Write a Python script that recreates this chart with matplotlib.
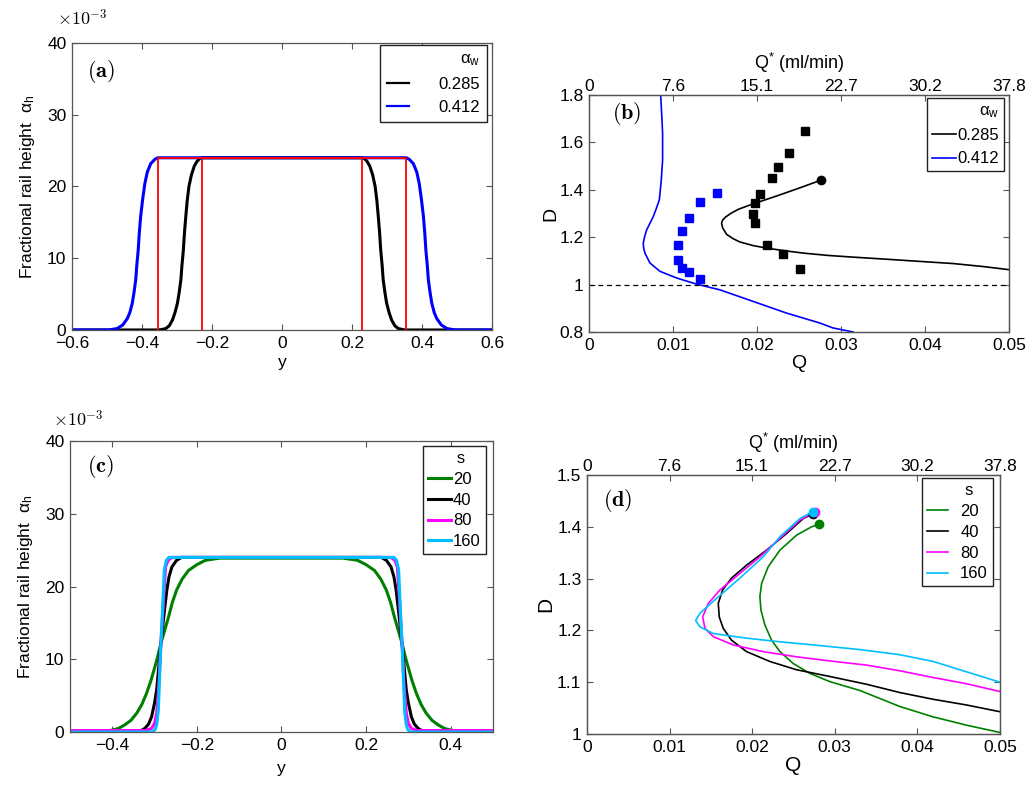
import numpy as np
import matplotlib
matplotlib.use('Agg')
import matplotlib.pyplot as plt
from matplotlib.ticker import FuncFormatter

plt.rcParams['font.family'] = ['Liberation Sans', 'DejaVu Sans']
plt.rcParams['mathtext.fontset'] = 'custom'
plt.rcParams['mathtext.rm'] = 'Liberation Sans'
plt.rcParams['mathtext.it'] = 'Liberation Sans:italic'
plt.rcParams['mathtext.bf'] = 'Liberation Sans:bold'

# ---------------- data ----------------
# (a) rail profiles, alpha_h vs y
a_y_285 = [-0.6, -0.355, -0.345, -0.332, -0.322, -0.313, -0.306, -0.299, -0.294, -0.289, -0.286,
           -0.282, -0.279, -0.275, -0.271, -0.266, -0.259, -0.251, -0.243, -0.235, -0.228,
           0.228, 0.235, 0.243, 0.251, 0.259, 0.266, 0.271, 0.275, 0.279, 0.282, 0.286, 0.289,
           0.294, 0.299, 0.306, 0.313, 0.322, 0.332, 0.345, 0.355, 0.6]
a_h_285 = [0.0, 0.0, 0.00005, 0.0002, 0.0006, 0.0014, 0.0024, 0.0037, 0.0052, 0.0070, 0.0090,
           0.0111, 0.0134, 0.0158, 0.0180, 0.0200, 0.0216, 0.0228, 0.0235, 0.0239, 0.0240,
           0.0240, 0.0239, 0.0235, 0.0228, 0.0216, 0.0200, 0.0180, 0.0158, 0.0134, 0.0111, 0.0090,
           0.0070, 0.0052, 0.0037, 0.0024, 0.0014, 0.0006, 0.0002, 0.00005, 0.0, 0.0]
a_y_412 = [-0.6, -0.495, -0.471, -0.455, -0.442, -0.435, -0.428, -0.423, -0.418, -0.415, -0.411,
           -0.408, -0.404, -0.398, -0.392, -0.385, -0.375, -0.363, -0.355,
           0.355, 0.363, 0.375, 0.385, 0.392, 0.398, 0.404, 0.408, 0.411, 0.415, 0.418, 0.423,
           0.428, 0.435, 0.442, 0.455, 0.471, 0.495, 0.6]
a_h_412 = [0.0, 0.0, 0.0002, 0.0007, 0.0016, 0.0024, 0.0037, 0.0052, 0.0070, 0.0090, 0.0111,
           0.0134, 0.0158, 0.0183, 0.0204, 0.0220, 0.0232, 0.0238, 0.0240,
           0.0240, 0.0238, 0.0232, 0.0220, 0.0204, 0.0183, 0.0158, 0.0134, 0.0111, 0.0090, 0.0070,
           0.0052, 0.0037, 0.0024, 0.0016, 0.0007, 0.0002, 0.0, 0.0]
# red step outlines
red_y_in = [-0.228, -0.228, 0.228, 0.228]
red_y_out = [-0.355, -0.355, 0.355, 0.355]
red_h = [0.0, 0.024, 0.024, 0.0]

# (b) D vs Q
b_q_285 = [0.02756, 0.0250, 0.0225, 0.0205, 0.0190, 0.0178, 0.01695, 0.01625, 0.0159, 0.01578,
           0.0159, 0.01638, 0.0172, 0.01796, 0.0195, 0.02113, 0.0235, 0.0255, 0.0285, 0.03144,
           0.0355, 0.03937, 0.04334, 0.0470, 0.05]
b_d_285 = [1.440, 1.407, 1.376, 1.352, 1.334, 1.318, 1.302, 1.285, 1.272, 1.259,
           1.240, 1.212, 1.193, 1.180, 1.165, 1.154, 1.142, 1.133, 1.123, 1.116,
           1.107, 1.098, 1.089, 1.076, 1.063]
b_q_412 = [0.00853, 0.00868, 0.00876, 0.00876, 0.00860, 0.00837, 0.00800, 0.00765, 0.00720,
           0.00686, 0.00660, 0.00646, 0.00650, 0.00666, 0.00726, 0.00845, 0.01043, 0.01281,
           0.01558, 0.01955, 0.02351, 0.02748, 0.02906, 0.0305, 0.03144]
b_d_412 = [1.80, 1.70, 1.638, 1.526, 1.44, 1.358, 1.32, 1.287, 1.255,
           1.231, 1.20, 1.175, 1.155, 1.133, 1.091, 1.056, 1.028, 1.002,
           0.978, 0.929, 0.880, 0.838, 0.817, 0.807, 0.80]
b_end_285 = (0.02756, 1.440)
exp_q_285 = [0.02577, 0.02379, 0.02244, 0.02177, 0.02038, 0.01979, 0.01947, 0.01979, 0.02113, 0.02308, 0.02514]
exp_d_285 = [1.647, 1.557, 1.495, 1.449, 1.384, 1.346, 1.300, 1.259, 1.167, 1.130, 1.068]
exp_q_412 = [0.01519, 0.01316, 0.01190, 0.01110, 0.01055, 0.01055, 0.01110, 0.01186, 0.01316]
exp_d_412 = [1.386, 1.348, 1.279, 1.228, 1.167, 1.105, 1.072, 1.053, 1.023]

# (c) rail profiles for different s
c_y_20 = [-0.5, -0.45, -0.42, -0.401, -0.385, -0.370, -0.356, -0.342, -0.330, -0.319, -0.309,
          -0.299, -0.292, -0.285, -0.276, -0.267, -0.258, -0.248, -0.235, -0.22, -0.2, -0.18, -0.146,
          0.146, 0.18, 0.2, 0.22, 0.235, 0.248, 0.258, 0.267, 0.276, 0.285, 0.292, 0.299,
          0.309, 0.319, 0.330, 0.342, 0.356, 0.370, 0.385, 0.401, 0.42, 0.45, 0.5]
c_h_20 = [0.0, 0.0, 0.0001, 0.00025, 0.0005, 0.0010, 0.0016, 0.0026, 0.0038, 0.0053, 0.0070,
          0.0090, 0.0105, 0.0122, 0.0140, 0.0158, 0.0178, 0.0195, 0.0210, 0.0222, 0.0230, 0.0236, 0.0239,
          0.0239, 0.0236, 0.0230, 0.0222, 0.0210, 0.0195, 0.0178, 0.0158, 0.0140, 0.0122, 0.0105, 0.0090,
          0.0070, 0.0053, 0.0038, 0.0026, 0.0016, 0.0010, 0.0005, 0.00025, 0.0001, 0.0, 0.0]
c_y_40 = [-0.5, -0.346, -0.333, -0.323, -0.314, -0.307, -0.300, -0.295, -0.290, -0.285, -0.277,
          -0.271, -0.266, -0.259, -0.248, -0.236,
          0.236, 0.248, 0.259, 0.266, 0.271, 0.277, 0.285, 0.290, 0.295, 0.300, 0.307,
          0.314, 0.323, 0.333, 0.346, 0.5]
c_h_40 = [0.0, 0.0, 0.00015, 0.0005, 0.0011, 0.0021, 0.0040, 0.0058, 0.0090, 0.0122, 0.0165,
          0.0195, 0.0213, 0.0227, 0.0236, 0.0240,
          0.0240, 0.0236, 0.0227, 0.0213, 0.0195, 0.0165, 0.0122, 0.0090, 0.0058, 0.0040, 0.0021,
          0.0011, 0.0005, 0.00015, 0.0, 0.0]
c_y_80 = [-0.5, -0.321, -0.307, -0.300, -0.295, -0.2895, -0.285, -0.279, -0.274, -0.268, -0.259,
          0.259, 0.268, 0.274, 0.279, 0.285, 0.2895, 0.295, 0.300, 0.307, 0.321, 0.5]
c_h_80 = [0.0002, 0.0002, 0.0005, 0.0012, 0.0026, 0.0067, 0.0122, 0.0181, 0.0227, 0.0236, 0.0240,
          0.0240, 0.0236, 0.0227, 0.0181, 0.0122, 0.0067, 0.0026, 0.0012, 0.0005, 0.0002, 0.0002]
c_y_160 = [-0.5, -0.306, -0.299, -0.295, -0.291, -0.2885, -0.285, -0.281, -0.277, -0.272, -0.266,
           0.266, 0.272, 0.277, 0.281, 0.285, 0.2885, 0.291, 0.295, 0.299, 0.306, 0.5]
c_h_160 = [0.0, 0.0, 0.0003, 0.0010, 0.0030, 0.0070, 0.0122, 0.0170, 0.0223, 0.0236, 0.0240,
           0.0240, 0.0236, 0.0223, 0.0170, 0.0122, 0.0070, 0.0030, 0.0010, 0.0003, 0.0, 0.0]

# (d) D vs Q for different s
d_q_20 = [0.02813, 0.0272, 0.02539, 0.02337, 0.02195, 0.02115, 0.02094, 0.02107, 0.02155, 0.02236,
          0.02337, 0.02498, 0.0270, 0.02942, 0.03305, 0.03789, 0.04193, 0.04597, 0.05]
d_d_20 = [1.405, 1.400, 1.384, 1.355, 1.323, 1.291, 1.265, 1.239, 1.210, 1.181,
          1.159, 1.136, 1.117, 1.101, 1.084, 1.053, 1.033, 1.017, 1.003]
d_q_40 = [0.0274, 0.02619, 0.02417, 0.02175, 0.01933, 0.01751, 0.01642, 0.0159, 0.01602, 0.0165,
          0.01751, 0.01933, 0.02215, 0.02538, 0.02942, 0.03386, 0.03789, 0.04193, 0.04597, 0.05]
d_d_40 = [1.425, 1.416, 1.387, 1.355, 1.326, 1.301, 1.278, 1.252, 1.226, 1.204,
          1.181, 1.159, 1.140, 1.124, 1.111, 1.096, 1.080, 1.067, 1.056, 1.043]
d_q_80 = [0.0276, 0.02579, 0.02337, 0.02094, 0.01852, 0.0161, 0.01469, 0.01401, 0.01429, 0.01529,
          0.01771, 0.02134, 0.02538, 0.02942, 0.03386, 0.03789, 0.04193, 0.04597, 0.05]
d_d_80 = [1.429, 1.413, 1.378, 1.342, 1.310, 1.278, 1.252, 1.226, 1.204, 1.188,
          1.172, 1.159, 1.149, 1.141, 1.133, 1.122, 1.109, 1.097, 1.082]
d_q_160 = [0.02732, 0.02579, 0.02337, 0.02134, 0.01852, 0.0157, 0.01368, 0.01316, 0.01368, 0.01529,
           0.01933, 0.02337, 0.0274, 0.03305, 0.03789, 0.04193, 0.04597, 0.05]
d_d_160 = [1.429, 1.416, 1.381, 1.342, 1.301, 1.262, 1.233, 1.219, 1.207, 1.194,
           1.185, 1.178, 1.172, 1.163, 1.153, 1.140, 1.120, 1.100]

q_ticks = [0, 0.01, 0.02, 0.03, 0.04, 0.05]
qstar_labels = ['0', '7.6', '15.1', '22.7', '30.2', '37.8']

green = '#008000'
cyan = '#00bfff'
magenta = '#ff00ff'
spine_col = '#555555'
tick_fs = 12.5


def fmt_g(v, p):
    return ('%g' % round(v, 6)).replace('-', '\u2212')


def fmt_milli(v, p):
    return '%g' % round(v * 1000, 6)


def style_axes(ax):
    for s in ax.spines.values():
        s.set_color(spine_col)
        s.set_linewidth(0.9)
    ax.tick_params(direction='in', length=4, width=0.8, color=spine_col,
                   labelsize=tick_fs, top=True, right=True, pad=4)


def box_legend(ax, title, anchor, **kw):
    leg = ax.legend(title=title, loc='upper right', bbox_to_anchor=anchor,
                    fancybox=False, framealpha=1, edgecolor='#222222',
                    fontsize=12, title_fontsize=12, borderaxespad=0, **kw)
    leg.get_frame().set_linewidth(1.0)
    return leg


fig = plt.figure(figsize=(10.35, 7.93), dpi=100)

# ---------------- (a) ----------------
ax = fig.add_axes([0.0696, 0.5839, 0.4058, 0.3619])
ax.plot(a_y_285, a_h_285, color='black', lw=2.2, label='0.285')
ax.plot(a_y_412, a_h_412, color='blue', lw=2.2, label='0.412')
ax.plot(red_y_in, red_h, color='red', lw=1.3)
ax.plot(red_y_out, red_h, color='red', lw=1.3)
ax.set_xlim(-0.6, 0.6)
ax.set_ylim(0, 0.04)
ax.set_xticks([-0.6, -0.4, -0.2, 0, 0.2, 0.4, 0.6])
ax.set_yticks([0, 0.01, 0.02, 0.03, 0.04])
ax.xaxis.set_major_formatter(FuncFormatter(fmt_g))
ax.yaxis.set_major_formatter(FuncFormatter(fmt_milli))
style_axes(ax)
ax.set_xlabel('y', fontsize=12.5, labelpad=3)
ax.set_ylabel('Fractional rail height  \u03b1$_\\mathrm{h}$', fontsize=12.5, labelpad=7)
ax.text(-0.036, 1.084, r'$\times10^{-3}$', transform=ax.transAxes, fontsize=13,
        va='center', ha='left', math_fontfamily='cm')
ax.text(0.036, 0.902, r'$\mathbf{(a)}$', transform=ax.transAxes, fontsize=16,
        va='center', ha='left', math_fontfamily='cm')
leg = box_legend(ax, '\u03b1$_\\mathrm{w}$', (0.988, 0.993), handlelength=1.3,
                 handletextpad=1.8, alignment='right')
for h in leg.get_lines():
    h.set_linewidth(1.6)

# ---------------- (b) ----------------
ax = fig.add_axes([0.5691, 0.5813, 0.4058, 0.2989])
ax.plot(b_q_285, b_d_285, color='black', lw=1.2, label='0.285')
ax.plot(b_q_412, b_d_412, color='blue', lw=1.2, label='0.412')
ax.plot(exp_q_285, exp_d_285, 's', color='black', ms=5.5)
ax.plot(exp_q_412, exp_d_412, 's', color='blue', ms=5.5)
ax.plot([b_end_285[0]], [b_end_285[1]], 'o', color='black', ms=6)
ax.axhline(1.0, color='black', lw=0.9, ls=(0, (4, 3)))
ax.set_xlim(0, 0.05)
ax.set_ylim(0.8, 1.8)
ax.set_xticks(q_ticks)
ax.set_yticks([0.8, 1.0, 1.2, 1.4, 1.6, 1.8])
ax.xaxis.set_major_formatter(FuncFormatter(fmt_g))
ax.yaxis.set_major_formatter(FuncFormatter(fmt_g))
style_axes(ax)
ax.tick_params(top=False)
ax.set_xlabel('Q', fontsize=14, labelpad=2)
ax.set_ylabel('D', fontsize=14, labelpad=0)
ax.text(0.055, 0.924, r'$\mathbf{(b)}$', transform=ax.transAxes, fontsize=16,
        va='center', ha='left', math_fontfamily='cm')
box_legend(ax, '\u03b1$_\\mathrm{w}$', (0.988, 0.987), handlelength=1.4,
           handletextpad=0.1, alignment='right', borderpad=0.3)
top = ax.twiny()
top.set_xlim(0, 0.05)
top.set_xticks(q_ticks)
top.set_xticklabels(qstar_labels)
style_axes(top)
top.tick_params(bottom=False, right=False, left=False, labelsize=tick_fs, pad=1)
top.set_xlabel('Q$^{*}$ (ml/min)', fontsize=13, labelpad=7)

# ---------------- (c) ----------------
ax = fig.add_axes([0.0676, 0.0769, 0.4087, 0.3670])
ax.plot(c_y_20, c_h_20, color=green, lw=2.2, label='20')
ax.plot(c_y_40, c_h_40, color='black', lw=2.2, label='40')
ax.plot(c_y_80, c_h_80, color=magenta, lw=2.2, label='80')
ax.plot(c_y_160, c_h_160, color=cyan, lw=2.2, label='160')
ax.set_xlim(-0.5, 0.5)
ax.set_ylim(0, 0.04)
ax.set_xticks([-0.4, -0.2, 0, 0.2, 0.4])
ax.set_yticks([0, 0.01, 0.02, 0.03, 0.04])
ax.xaxis.set_major_formatter(FuncFormatter(fmt_g))
ax.yaxis.set_major_formatter(FuncFormatter(fmt_milli))
style_axes(ax)
ax.set_xlabel('y', fontsize=12.5, labelpad=6)
ax.set_ylabel('Fractional rail height  \u03b1$_\\mathrm{h}$', fontsize=12.5, labelpad=7)
ax.text(-0.04, 1.072, r'$\times10^{-3}$', transform=ax.transAxes, fontsize=13,
        va='center', ha='left', math_fontfamily='cm')
ax.text(0.04, 0.914, r'$\mathbf{(c)}$', transform=ax.transAxes, fontsize=16,
        va='center', ha='left', math_fontfamily='cm')
box_legend(ax, '   s', (0.983, 0.983), handlelength=1.4, handletextpad=0.1,
           borderpad=0.3, labelspacing=0.35)

# ---------------- (d) ----------------
ax = fig.add_axes([0.5671, 0.0744, 0.3990, 0.3266])
ax.plot(d_q_20, d_d_20, color=green, lw=1.2, label='20')
ax.plot(d_q_40, d_d_40, color='black', lw=1.2, label='40')
ax.plot(d_q_80, d_d_80, color=magenta, lw=1.2, label='80')
ax.plot(d_q_160, d_d_160, color=cyan, lw=1.2, label='160')
ax.plot([d_q_20[0]], [d_d_20[0]], 'o', color=green, ms=6)
ax.plot([d_q_40[0]], [d_d_40[0]], 'o', color='black', ms=6)
ax.plot([d_q_80[0]], [d_d_80[0]], 'o', color=magenta, ms=6)
ax.plot([d_q_160[0]], [d_d_160[0]], 'o', color=cyan, ms=6)
ax.set_xlim(0, 0.05)
ax.set_ylim(1.0, 1.5)
ax.set_xticks(q_ticks)
ax.set_yticks([1.0, 1.1, 1.2, 1.3, 1.4, 1.5])
ax.xaxis.set_major_formatter(FuncFormatter(fmt_g))
ax.yaxis.set_major_formatter(FuncFormatter(fmt_g))
style_axes(ax)
ax.tick_params(top=False)
ax.set_xlabel('Q', fontsize=15, labelpad=1)
ax.set_ylabel('D', fontsize=15, labelpad=1)
ax.text(0.039, 0.90, r'$\mathbf{(d)}$', transform=ax.transAxes, fontsize=16,
        va='center', ha='left', math_fontfamily='cm')
box_legend(ax, '     s', (0.983, 0.988), handlelength=1.3, handletextpad=0.7,
           borderpad=0.3, labelspacing=0.35)
top = ax.twiny()
top.set_xlim(0, 0.05)
top.set_xticks(q_ticks)
top.set_xticklabels(qstar_labels)
style_axes(top)
top.tick_params(bottom=False, right=False, left=False, labelsize=tick_fs, pad=1)
top.set_xlabel('Q$^{*}$ (ml/min)', fontsize=13, labelpad=7)

fig.savefig('out.png', dpi=100)
